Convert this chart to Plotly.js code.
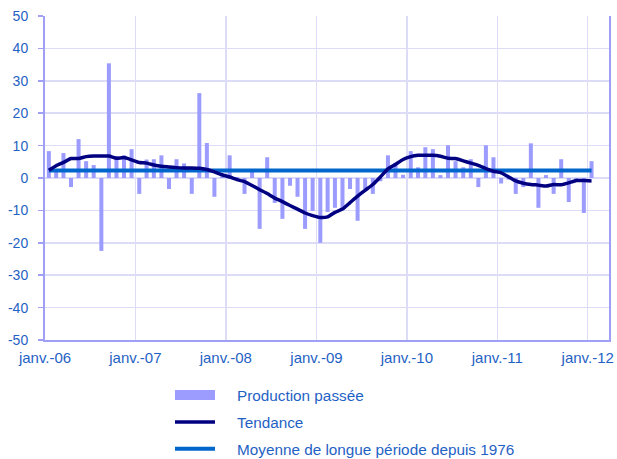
<!DOCTYPE html>
<html>
<head>
<meta charset="utf-8">
<script src="https://cdn.plot.ly/plotly-3.0.1.min.js"></script>
<style>html,body{margin:0;padding:0;background:#fff;}#chart{width:617px;height:459px;}</style>
</head>
<body>
<div id="chart"></div>
<script>
// Monthly data, janv. 2006 -> janv. 2012 (73 months)
const START_YEAR = 2006;
const N_MONTHS = 73;
const months = [];
for (let i = 0; i < N_MONTHS; i++) {
  const y = START_YEAR + Math.floor(i / 12);
  const m = (i % 12) + 1;
  months.push(y + '-' + String(m).padStart(2, '0') + '-01');
}

// Production passée (solde d'opinion)
const production = [
  8.3, 2, 7.7, -2.8, 12, 5.2, 4, -22.5, 35.4, 6.8, 7, 8.9,
  -4.9, 5.7, 5.8, 7, -3.4, 5.8, 4.5, -4.9, 26.2, 10.8, -5.8, 0.5,
  7, 0.3, -4.9, 2, -15.7, 6.4, -7.7, -12.6, -2.4, -5.8, -15.7, -10.2,
  -20, -10.5, -9.2, -9.8, -3.4, -13.2, -3.4, -4.9, -1, 7, 4.7, 1,
  8.3, 3.3, 9.5, 8.9, 0.9, 10.1, 5.2, 3.3, 5.8, -2.8, 10.1, 6.4,
  -1.7, -0.5, -4.9, -2.8, 10.7, -9.2, 0.9, -4.9, 5.8, -7.4, -0.7, -10.8,
  5.2
];

// Tendance
const tendance = [
  2.4, 3.8, 4.8, 6.0, 6.0, 6.6, 6.8, 6.8, 6.8, 6.1, 6.3, 5.6,
  4.8, 4.6, 4.0, 3.6, 3.4, 3.2, 3.1, 3.1, 3.0, 2.6, 1.9, 1.0,
  0.3, -0.5, -1.1, -2.3, -3.6, -4.8, -6.2, -7.3, -8.5, -9.6, -10.8, -11.6,
  -12.2, -12.0, -10.6, -9.6, -7.6, -5.6, -3.8, -2.0, 0.3, 2.8, 4.2, 5.7,
  6.6, 7.0, 7.0, 7.0, 6.7, 6.1, 6.0, 5.3, 4.6, 3.9, 2.9, 2.1,
  1.6, 0.4, -0.9, -1.6, -2.0, -2.2, -2.5, -2.0, -2.1, -1.5, -0.8, -0.8,
  -0.9
];

// Moyenne de longue période depuis 1976
const moyenneValue = 2.3;
const moyenne = months.map(() => moyenneValue);

const tickDates = ['2006-01-01','2007-01-01','2008-01-01','2009-01-01','2010-01-01','2011-01-01','2012-01-01'];
const tickLabels = ['janv.-06','janv.-07','janv.-08','janv.-09','janv.-10','janv.-11','janv.-12'];
const yTicks = [-50,-40,-30,-20,-10,0,10,20,30,40,50];
const yTickLabels = ['-50','-40','-30','-20','-10','0','10','20','30','40','50'];

const seriesNames = ['Production passée', 'Tendance', 'Moyenne de longue période depuis 1976'];

const textColor = '#1f62c4';
const axisColor = '#9f9ff5';
const gridColor = '#dcdcf7';
const barColor = '#9c9cff';
const font = 'Liberation Sans, Arial, sans-serif';
const pad = '\u00a0\u00a0\u00a0\u00a0';

const traces = [
  {
    type: 'bar', name: seriesNames[0], x: months, y: production,
    xperiod: 'M1', xperiodalignment: 'middle',
    marker: {color: barColor, line: {width: 0}},
    showlegend: false
  },
  {
    // legend entry for the bars (wide rectangle symbol)
    type: 'scatter', mode: 'lines', name: pad + seriesNames[0],
    x: [null], y: [null],
    line: {color: barColor, width: 11},
    legendrank: 1, legendgroup: 'a', hoverinfo: 'skip'
  },
  {
    type: 'scatter', mode: 'lines', name: pad + seriesNames[2],
    x: months, y: moyenne, xperiod: 'M1', xperiodalignment: 'middle',
    line: {color: '#0066cc', width: 4},
    legendrank: 3, legendgroup: 'c'
  },
  {
    type: 'scatter', mode: 'lines', name: pad + seriesNames[1],
    x: months, y: tendance, xperiod: 'M1', xperiodalignment: 'middle',
    line: {color: '#000080', width: 3.5, shape: 'spline', smoothing: 0.4},
    legendrank: 2, legendgroup: 'b'
  }
];

const layout = {
  width: 617, height: 459,
  margin: {l: 45, r: 8, t: 16, b: 119, autoexpand: false},
  paper_bgcolor: '#ffffff', plot_bgcolor: '#ffffff',
  font: {family: font, size: 14, color: textColor},
  bargap: 0.45,
  showlegend: true,
  legend: {
    x: 0.2216, xanchor: 'left', y: -0.119, yanchor: 'top',
    font: {family: font, size: 15.3, color: textColor},
    itemwidth: 40, tracegroupgap: 4, bgcolor: 'rgba(0,0,0,0)'
  },
  xaxis: {
    type: 'date', range: ['2006-01-01', '2012-03-27'],
    tickvals: tickDates, ticktext: tickLabels,
    showgrid: true, gridcolor: gridColor, gridwidth: 1.5,
    showline: true, linecolor: axisColor, linewidth: 2,
    ticks: '', zeroline: false, ticklabelstandoff: 3,
    tickfont: {family: font, size: 15, color: textColor}
  },
  yaxis: {
    range: [-50, 50], tickvals: yTicks, ticktext: yTickLabels,
    showgrid: true, gridcolor: gridColor, gridwidth: 1.5,
    showline: true, mirror: true, linecolor: axisColor, linewidth: 2,
    ticks: 'outside', ticklen: 5, tickcolor: axisColor, tickwidth: 1.5,
    zeroline: false, ticklabelstandoff: 7,
    tickfont: {family: font, size: 14, color: textColor}
  }
};

Plotly.newPlot('chart', traces, layout, {displayModeBar: false, staticPlot: true});
</script>
</body>
</html>
